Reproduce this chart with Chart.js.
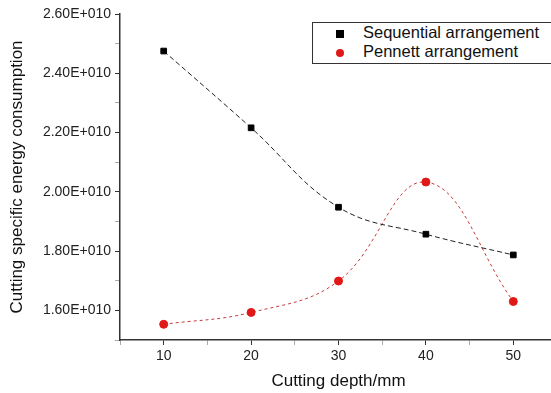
<!DOCTYPE html>
<html>
<head>
<meta charset="utf-8">
<script src="https://cdn.jsdelivr.net/npm/chart.js@4/dist/chart.umd.min.js"></script>
<style>
  html, body { margin: 0; padding: 0; background: #fff; overflow: hidden; }
  #wrap { position: relative; width: 551px; height: 393px; overflow: hidden; }
  #chart { position: absolute; left: 0; top: 0; }
  #legend {
    position: absolute; left: 312px; top: 22px; width: 260px; height: 40px;
    border: 1px solid #333; font-family: "Liberation Sans", Arial, sans-serif;
    font-size: 16.5px; color: #111; background: #fff;
  }
  #legend div { position: absolute; left: 0; white-space: nowrap; }
  #legend .mk { position: absolute; }
</style>
</head>
<body>
<div id="wrap">
  <canvas id="chart"></canvas>
  <div id="legend"></div>
</div>
<script>
// data
var depths = [10, 20, 30, 40, 50];
var sequential = [2.475e10, 2.216e10, 1.948e10, 1.857e10, 1.787e10];
var pennett = [1.553e10, 1.593e10, 1.699e10, 2.033e10, 1.630e10];
var seriesNames = ["Sequential arrangement", "Pennett arrangement"];

var fontName = "'Liberation Sans', Arial, sans-serif";

function toPoints(xs, ys) {
  var out = [];
  for (var i = 0; i < xs.length; i++) out.push({ x: xs[i], y: ys[i] });
  return out;
}

var canvas = document.getElementById("chart");
canvas.width = 562;
canvas.height = 393;
canvas.style.width = "562px";
canvas.style.height = "393px";

new Chart(canvas, {
  type: "line",
  data: {
    datasets: [
      {
        label: seriesNames[0],
        data: toPoints(depths, sequential),
        borderColor: "#222",
        borderWidth: 1,
        borderDash: [5, 3],
        backgroundColor: "#000",
        pointStyle: "rect",
        pointRadius: 4,
        pointBackgroundColor: "#000",
        pointBorderColor: "#000",
        tension: 0.4
      },
      {
        label: seriesNames[1],
        data: toPoints(depths, pennett),
        borderColor: "#c83a3a",
        borderWidth: 1,
        borderDash: [3, 3],
        backgroundColor: "#e01818",
        pointStyle: "circle",
        pointRadius: 4,
        pointBackgroundColor: "#e01818",
        pointBorderColor: "#e01818",
        tension: 0.4
      }
    ]
  },
  options: {
    responsive: false,
    animation: false,
    layout: { padding: { top: 14, right: 0, left: 0, bottom: 0 } },
    plugins: { legend: { display: false }, tooltip: { enabled: false } },
    scales: {
      x: {
        type: "linear",
        min: 5,
        max: 55,
        ticks: {
          stepSize: 5,
          color: "#222",
          padding: 3,
          maxRotation: 0,
          autoSkip: false,
          font: { family: fontName, size: 14 },
          callback: function (v) { return v % 10 === 0 ? String(v) : ""; }
        },
        grid: {
          drawOnChartArea: false,
          tickLength: 5,
          tickColor: function (c) { return c.tick && c.tick.value % 10 === 0 ? "#333" : "#aaa"; }
        },
        border: { color: "#333", width: 1.5 },
        title: {
          display: true,
          text: "Cutting depth/mm",
          color: "#111",
          font: { family: fontName, size: 17 },
          padding: { top: 4, bottom: 1 }
        },
        afterFit: function (s) { s.height = 53; }
      },
      y: {
        min: 1.5e10,
        max: 2.6e10,
        ticks: {
          stepSize: 1e9,
          color: "#222",
          padding: 4,
          autoSkip: false,
          font: { family: fontName, size: 14 },
          callback: function (v) {
            var n = Math.round(v / 1e9);
            return n % 2 === 0 ? (v / 1e10).toFixed(2) + "E+010" : "";
          }
        },
        grid: {
          drawOnChartArea: false,
          tickLength: 5,
          tickColor: function (c) {
            return c.tick && Math.round(c.tick.value / 1e9) % 2 === 0 ? "#333" : "#aaa";
          }
        },
        border: { color: "#333", width: 1.5 },
        title: {
          display: true,
          text: "Cutting specific energy consumption",
          color: "#111",
          font: { family: fontName, size: 17 },
          padding: { top: 7, bottom: 0 }
        },
        afterFit: function (s) { s.width = 120; }
      }
    }
  }
});

// legend box, built from the series names
var legend = document.getElementById("legend");
var markers = [
  "width:8px;height:8px;background:#000;left:23px;top:6px;",
  "width:8px;height:8px;border-radius:50%;background:#e01818;left:23px;top:6px;"
];
for (var i = 0; i < seriesNames.length; i++) {
  var row = document.createElement("div");
  row.style.top = (1 + i * 19) + "px";
  row.style.width = "100%";
  row.style.height = "19px";
  var mk = document.createElement("span");
  mk.className = "mk";
  mk.style.cssText = markers[i];
  var tx = document.createElement("span");
  tx.style.position = "absolute";
  tx.style.left = "50px";
  tx.style.top = "-1px";
  tx.textContent = seriesNames[i];
  row.appendChild(mk);
  row.appendChild(tx);
  legend.appendChild(row);
}
</script>
</body>
</html>
